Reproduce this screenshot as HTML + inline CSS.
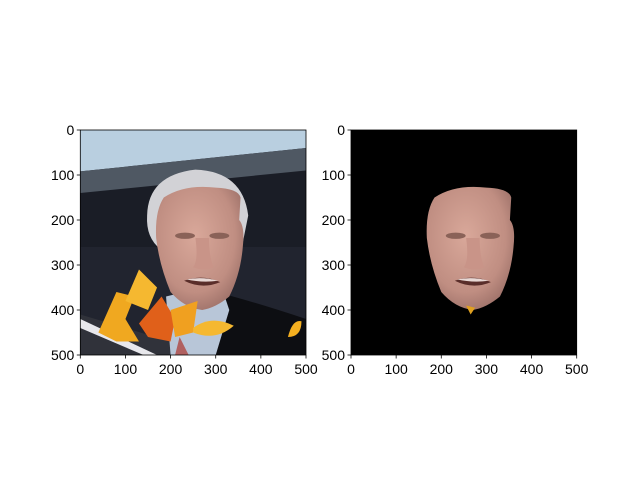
<!DOCTYPE html>
<html><head><meta charset="utf-8"><style>
body{margin:0;background:#fff;}
svg text{font-family:"Liberation Sans","DejaVu Sans",sans-serif;font-size:14px;fill:#000;}
</style></head><body>
<svg width="640" height="480" viewBox="0 0 640 480">
<defs>
<radialGradient id="skin" cx="0.45" cy="0.4" r="0.65">
<stop offset="0" stop-color="#d9a89a"/><stop offset="0.7" stop-color="#c08e82"/><stop offset="1" stop-color="#9c7068"/>
</radialGradient>
<g id="face">
<path d="M185,150 Q230,120 300,128 Q350,130 355,150 L352,200 Q365,215 360,260 Q355,320 330,370 Q300,395 270,400 Q230,395 200,360 Q175,300 168,240 Q165,180 185,150Z" fill="url(#skin)"/>
<ellipse cx="232" cy="235" rx="22" ry="7" fill="#8a6258"/>
<ellipse cx="308" cy="235" rx="22" ry="7" fill="#8a6258"/>
<path d="M255,240 Q262,290 250,305 Q275,315 295,305 Q285,280 285,240Z" fill="#c99488"/>
<path d="M230,335 Q270,320 310,338 Q270,355 230,335Z" fill="#5a2e2a"/>
<path d="M235,332 Q270,325 305,335 Q270,340 235,332Z" fill="#e8d8d4"/>
</g>
</defs>
<g>
<svg x="80.3" y="130" width="225.7" height="225" viewBox="0 0 500 500" preserveAspectRatio="none">
<rect width="500" height="500" fill="#1a1d26"/>
<polygon points="0,0 500,0 500,40 0,92" fill="#b9cfe0"/>
<polygon points="0,92 500,40 500,90 0,140" fill="#4f5863"/>
<rect x="0" y="260" width="500" height="240" fill="#262a35" opacity="0.6"/>
<polygon points="0,410 300,500 0,500" fill="#30323a"/>
<polygon points="0,420 170,500 140,500 0,440" fill="#e8e8ec"/>
<path d="M300,360 Q380,380 500,420 L500,500 L250,500Z" fill="#0d0e12"/>
<polygon points="190,370 310,340 330,400 300,500 200,500" fill="#b8c6d8"/>
<polygon points="220,460 240,500 210,500" fill="#b06060"/>
<path d="M148,190 Q150,100 255,88 Q360,92 372,190 L360,250 Q352,160 300,145 Q220,140 185,190 L178,265 Q145,240 148,190Z" fill="#d2d2d6"/>
<use href="#face"/>
<path d="M40,450 L80,360 L120,370 L100,420 L130,470 L80,470Z" fill="#f0a820"/>
<path d="M100,380 L130,310 L170,350 L150,400Z" fill="#f5b830"/>
<path d="M130,430 L180,370 L210,420 L200,470 L150,460Z" fill="#e0601a"/>
<path d="M200,400 L260,380 L250,450 L210,460Z" fill="#f0a020"/>
<path d="M250,440 Q290,410 340,435 Q300,470 250,450Z" fill="#f5b830"/>
<path d="M460,460 Q470,420 490,425 Q490,460 460,460Z" fill="#f5b020"/>
</svg>
<rect x="80.3" y="130" width="225.7" height="225" fill="none" stroke="#000" stroke-width="0.8"/>
</g>
<g>
<svg x="351" y="130" width="225.7" height="225" viewBox="0 0 500 500" preserveAspectRatio="none">
<rect width="500" height="500" fill="#000"/>
<use href="#face"/>
<path d="M255,390 L265,410 L275,395Z" fill="#e0a020"/>
</svg>
<rect x="351" y="130" width="225.7" height="225" fill="none" stroke="#000" stroke-width="0.8"/>
</g>
<g id="ticks"></g>
</svg>
<script>
const tickValues=[0,100,200,300,400,500];
const axesLeft=[80.3,351];
const g=document.getElementById('ticks');
const NS='http://www.w3.org/2000/svg';
function sx(x0,v){return x0+v*225.7/500;}
function sy(v){return 130+v*225/500;}
axesLeft.forEach((x0,ai)=>{
tickValues.forEach(v=>{
let l=document.createElementNS(NS,'line');
l.setAttribute('x1',sx(x0,v));l.setAttribute('x2',sx(x0,v));l.setAttribute('y1',355);l.setAttribute('y2',358.5);l.setAttribute('stroke','#000');l.setAttribute('stroke-width','0.8');


g.appendChild(l);
let t=document.createElementNS(NS,'text');
t.setAttribute('x',sx(x0,v));t.setAttribute('y',374);t.setAttribute('text-anchor','middle');t.textContent=v;


g.appendChild(t);
let l2=document.createElementNS(NS,'line');
l2.setAttribute('x1',x0-3.5);l2.setAttribute('x2',x0);l2.setAttribute('y1',sy(v));l2.setAttribute('y2',sy(v));l2.setAttribute('stroke','#000');l2.setAttribute('stroke-width','0.8');


g.appendChild(l2);
let t2=document.createElementNS(NS,'text');
t2.setAttribute('x',x0-6);t2.setAttribute('y',sy(v)+5);t2.setAttribute('text-anchor','end');t2.textContent=v;


g.appendChild(t2);
});
});
</script>
</body></html>
